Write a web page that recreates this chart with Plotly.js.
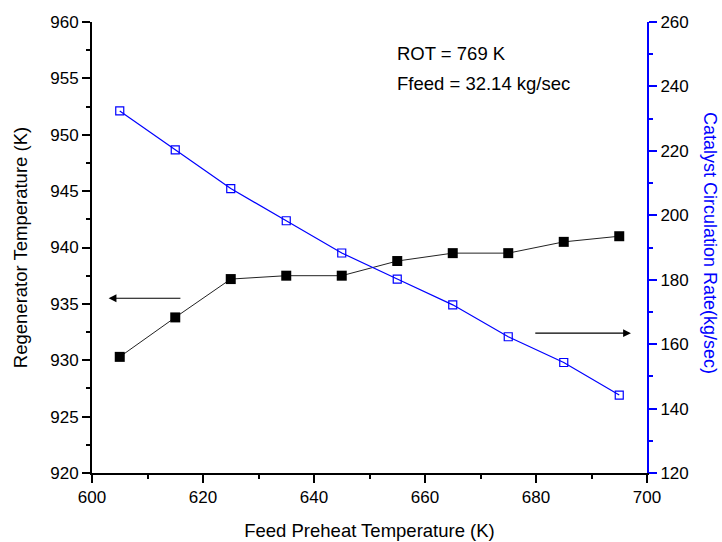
<!DOCTYPE html>
<html>
<head>
<meta charset="utf-8">
<script src="https://cdn.plot.ly/plotly-3.0.1.min.js"></script>
<style>html,body{margin:0;padding:0;background:#fff;}#chart{width:722px;height:542px;}</style>
</head>
<body>
<div id="chart"></div>
<script>
// Data
const feedPreheat = [605, 615, 625, 635, 645, 655, 665, 675, 685, 695];
const regenTemp = [930.3, 933.8, 937.2, 937.5, 937.5, 938.8, 939.5, 939.5, 940.5, 941.0];
const catCirc = [232.4, 220.3, 208.3, 198.3, 188.3, 180.2, 172.2, 162.3, 154.3, 144.2];
const infoLines = ["ROT = 769 K", "Ffeed = 32.14 kg/sec"];
const rightTitle = "Catalyst Circulation Rate(kg/sec)";
// arrows: [tailX, tailY, headX, headY] in left-axis data coordinates
const leftArrow = [616.2, 935.5, 603.0, 935.5];
const rightArrow = [679.6, 932.4, 697.1, 932.4];

const FONT = "Arial, 'Liberation Sans', sans-serif";
const BLUE = "rgb(0,0,255)";

const traces = [
  {
    x: feedPreheat, y: regenTemp, xaxis: 'x', yaxis: 'y',
    mode: 'lines+markers', type: 'scatter',
    line: {color: '#222', width: 1},
    marker: {symbol: 'square', size: 10, color: '#000'},
    showlegend: false, hoverinfo: 'skip'
  },
  {
    x: feedPreheat, y: catCirc, xaxis: 'x', yaxis: 'y2',
    mode: 'lines+markers', type: 'scatter',
    line: {color: BLUE, width: 1.2},
    marker: {symbol: 'square-open', size: 8, color: BLUE, line: {width: 1.2, color: BLUE}},
    showlegend: false, hoverinfo: 'skip'
  }
];

function arrowAnn(a) {
  return {
    x: a[2], y: a[3], ax: a[0], ay: a[1],
    xref: 'x', yref: 'y', axref: 'x', ayref: 'y',
    showarrow: true, arrowhead: 2, arrowsize: 1.3, arrowwidth: 1.2,
    arrowcolor: '#000', text: ''
  };
}

const layout = {
  width: 722, height: 542,
  margin: {l: 92, r: 75, t: 22, b: 69},
  paper_bgcolor: '#fff', plot_bgcolor: '#fff',
  font: {family: FONT, size: 17, color: '#000'},
  xaxis: {
    range: [600, 700], dtick: 20, tick0: 600,
    showgrid: false, zeroline: false,
    showline: true, linecolor: '#000', linewidth: 2,
    ticks: 'outside', ticklen: 8, tickwidth: 2, tickcolor: '#000',
    minor: {dtick: 10, ticks: 'outside', ticklen: 4, tickwidth: 2, tickcolor: '#000'},
    tickfont: {family: FONT, size: 17},
    title: {text: 'Feed Preheat Temperature (K)', font: {family: FONT, size: 18.5}, standoff: 18}
  },
  xaxis2: {
    range: [600, 700], dtick: 20, tick0: 600,
    overlaying: 'x', side: 'top', anchor: 'y',
    showgrid: false, zeroline: false, showticklabels: false,
    showline: true, linecolor: '#000', linewidth: 2,
    ticks: 'inside', ticklen: 8, tickwidth: 2, tickcolor: '#000',
    minor: {dtick: 10, ticks: 'inside', ticklen: 4, tickwidth: 2, tickcolor: '#000'}
  },
  yaxis: {
    range: [920, 960], dtick: 5, tick0: 920,
    showgrid: false, zeroline: false,
    showline: true, linecolor: '#000', linewidth: 2,
    ticks: 'outside', ticklen: 8, tickwidth: 2, tickcolor: '#000',
    minor: {dtick: 2.5, ticks: 'outside', ticklen: 4, tickwidth: 2, tickcolor: '#000'},
    tickfont: {family: FONT, size: 17},
    title: {text: 'Regenerator Temperature (K)', font: {family: FONT, size: 18.5}, standoff: 18}
  },
  yaxis2: {
    range: [120, 260], dtick: 20, tick0: 120,
    overlaying: 'y', side: 'right', anchor: 'x',
    showgrid: false, zeroline: false,
    showline: true, linecolor: BLUE, linewidth: 2,
    ticks: 'outside', ticklen: 8, tickwidth: 2, tickcolor: BLUE,
    minor: {dtick: 10, ticks: 'outside', ticklen: 4, tickwidth: 2, tickcolor: BLUE},
    tickfont: {family: FONT, size: 17, color: '#000'}
  },
  annotations: [
    {xref: 'paper', yref: 'paper', x: 0.5465, y: 0.930, xanchor: 'left', yanchor: 'middle',
     text: infoLines[0], showarrow: false, font: {family: FONT, size: 18.5, color: '#000'}},
    {xref: 'paper', yref: 'paper', x: 0.5465, y: 0.864, xanchor: 'left', yanchor: 'middle',
     text: infoLines[1], showarrow: false, font: {family: FONT, size: 18.5, color: '#000'}},
    {xref: 'paper', yref: 'paper', x: 1.1135, y: 0.51, xanchor: 'center', yanchor: 'middle',
     text: rightTitle, textangle: 90, showarrow: false, font: {family: FONT, size: 18, color: BLUE}},
    arrowAnn(leftArrow),
    arrowAnn(rightArrow)
  ]
};

Plotly.newPlot('chart', traces, layout, {staticPlot: true, displayModeBar: false});
</script>
</body>
</html>
